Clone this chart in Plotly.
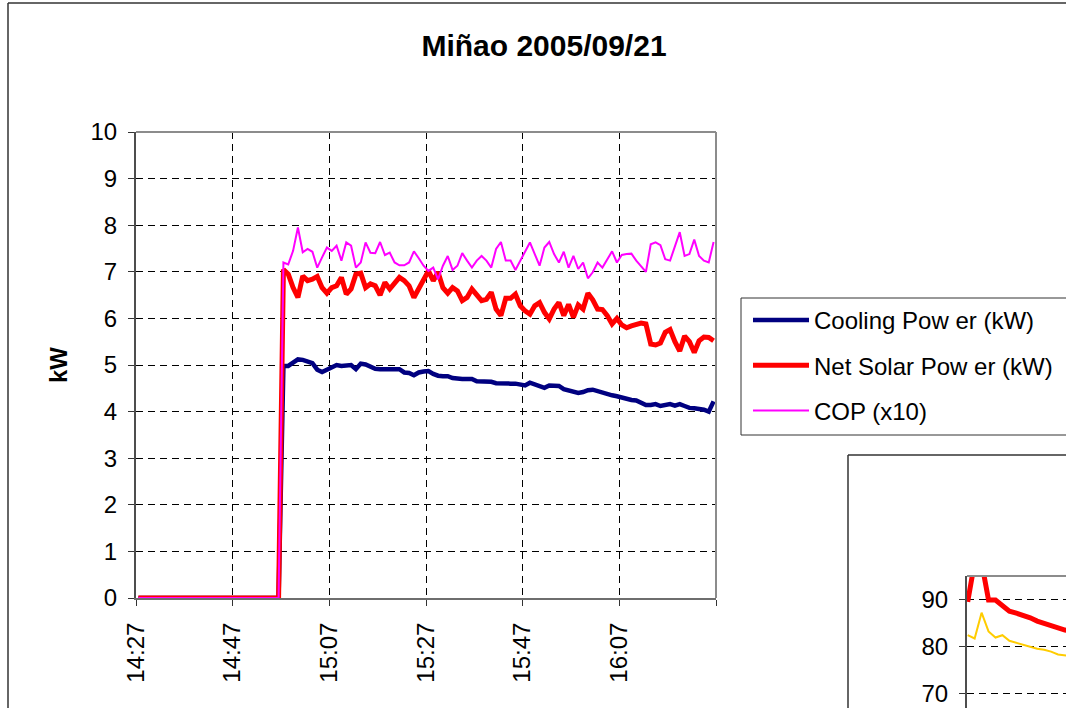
import pandas as pd
import plotly.graph_objects as go

# ---------------- data ----------------
start_time = "2005-09-21 14:27:30"
n_points = 120
times = pd.date_range(start_time, periods=n_points, freq="min")

cooling_kw = [
    0, 0, 0, 0, 0, 0, 0, 0, 0, 0, 0, 0, 0, 0, 0, 0, 0, 0, 0, 0, 0, 0, 0, 0, 0, 0, 0, 0, 0, 0,
    4.98, 4.98, 5.05, 5.12, 5.11, 5.07, 5.04, 4.90, 4.85, 4.90, 4.96, 5.00, 4.98, 4.98, 5.00,
    4.91, 5.03, 5.01, 4.97, 4.92, 4.91, 4.91, 4.91, 4.91, 4.91, 4.84, 4.83, 4.78, 4.84, 4.86,
    4.87, 4.81, 4.77, 4.76, 4.76, 4.72, 4.70, 4.70, 4.70, 4.70, 4.65, 4.65, 4.65, 4.64, 4.61,
    4.60, 4.60, 4.60, 4.60, 4.57, 4.56, 4.62, 4.58, 4.53, 4.51, 4.56, 4.56, 4.55, 4.48, 4.46,
    4.42, 4.40, 4.42, 4.46, 4.47, 4.44, 4.40, 4.36, 4.35, 4.33, 4.30, 4.27, 4.25, 4.24, 4.20,
    4.14, 4.14, 4.16, 4.12, 4.13, 4.16, 4.13, 4.16, 4.12, 4.08, 4.07, 4.06, 4.04, 4.00, 4.22,
]

net_solar_kw = [
    0, 0, 0, 0, 0, 0, 0, 0, 0, 0, 0, 0, 0, 0, 0, 0, 0, 0, 0, 0, 0, 0, 0, 0, 0, 0, 0, 0, 0, 0,
    7.05, 6.95, 6.66, 6.45, 6.91, 6.81, 6.84, 6.90, 6.66, 6.54, 6.66, 6.70, 6.88, 6.52, 6.63,
    6.95, 6.97, 6.66, 6.74, 6.70, 6.50, 6.77, 6.63, 6.77, 6.88, 6.81, 6.70, 6.45, 6.63, 6.81,
    7.02, 6.81, 6.99, 6.66, 6.54, 6.66, 6.59, 6.38, 6.45, 6.63, 6.49, 6.38, 6.41, 6.56, 6.20,
    6.06, 6.43, 6.43, 6.52, 6.27, 6.16, 6.09, 6.27, 6.34, 6.13, 5.99, 6.20, 6.34, 6.06, 6.30,
    6.02, 6.29, 6.20, 6.54, 6.40, 6.20, 6.19, 6.06, 5.88, 6.00, 5.86, 5.80, 5.84, 5.88, 5.90,
    5.88, 5.45, 5.43, 5.47, 5.70, 5.76, 5.50, 5.30, 5.62, 5.50, 5.27, 5.52, 5.60, 5.59, 5.52,
]

cop_x10 = [
    0, 0, 0, 0, 0, 0, 0, 0, 0, 0, 0, 0, 0, 0, 0, 0, 0, 0, 0, 0, 0, 0, 0, 0, 0, 0, 0, 0, 0, 0,
    7.20, 7.16, 7.45, 7.95, 7.42, 7.49, 7.43, 7.09, 7.31, 7.52, 7.45, 7.56, 7.24, 7.63, 7.56,
    7.09, 7.20, 7.63, 7.41, 7.40, 7.64, 7.36, 7.41, 7.20, 7.14, 7.14, 7.20, 7.44, 7.29, 7.13,
    7.02, 7.09, 6.84, 7.13, 7.34, 7.04, 7.13, 7.40, 7.24, 7.09, 7.24, 7.34, 7.24, 7.09, 7.49,
    7.64, 7.24, 7.24, 7.04, 7.24, 7.41, 7.63, 7.38, 7.13, 7.52, 7.64, 7.38, 7.20, 7.43, 7.09,
    7.34, 7.06, 7.20, 6.86, 6.99, 7.20, 7.09, 7.27, 7.44, 7.20, 7.36, 7.38, 7.39, 7.24, 7.11,
    7.00, 7.59, 7.63, 7.57, 7.27, 7.24, 7.56, 7.85, 7.34, 7.38, 7.69, 7.34, 7.24, 7.20, 7.64,
]

series_names = ["Cooling Pow er (kW)", "Net Solar Pow er (kW)", "COP (x10)"]

tick_times = ["2005-09-21 14:27", "2005-09-21 14:47", "2005-09-21 15:07", "2005-09-21 15:27",
              "2005-09-21 15:47", "2005-09-21 16:07", "2005-09-21 16:27"]
tick_labels = ["14:27", "14:47", "15:07", "15:27", "15:47", "16:07", ""]
y_ticks = [0, 1, 2, 3, 4, 5, 6, 7, 8, 9, 10]

# partially visible second chart (bottom right corner)
inset_index = [0, 1, 2, 3, 4, 5, 6, 7, 8, 9, 10, 11, 12, 13, 14, 15]
inset_red = [89.6, 98.0, 98.0, 90.0, 90.0, 88.8, 87.6, 87.2, 86.8, 86.2, 85.5, 85.0, 84.6, 83.9, 83.6, 83.4]
inset_yellow = [82.5, 81.8, 87.3, 83.3, 82.0, 82.5, 81.3, 80.9, 80.5, 80.0, 79.6, 79.4, 79.0, 78.4, 78.1, 78.0]
inset_y_ticks = [70, 80, 90]

# ---------------- layout helpers ----------------
W, H = 1066, 708
FONT = "Arial, 'Liberation Sans', sans-serif"


def px(x):
    return x / W


def py(y):
    return 1 - y / H


fig = go.Figure()

colors = ["#000080", "#FF0000", "#FF00FF"]
widths = [4.5, 5, 2]
for name, vals, col, wd in zip(series_names, [cooling_kw, net_solar_kw, cop_x10], colors, widths):
    fig.add_trace(go.Scatter(
        x=times, y=vals, mode="lines", name=name, legendgroup=name,
        line=dict(color=col, width=wd), cliponaxis=False,
        xaxis="x", yaxis="y",
    ))

fig.add_trace(go.Scatter(x=inset_index, y=inset_yellow, mode="lines", showlegend=False,
                         line=dict(color="#FFCC00", width=2), xaxis="x2", yaxis="y2"))
fig.add_trace(go.Scatter(x=inset_index, y=inset_red, mode="lines", showlegend=False,
                         line=dict(color="#FF0000", width=5), xaxis="x2", yaxis="y2"))

shapes = [
    # outer chart frame (extends past the window)
    dict(type="line", xref="paper", yref="paper", x0=px(8), x1=px(8), y0=py(3), y1=py(720),
         line=dict(color="#333333", width=1.5)),
    dict(type="line", xref="paper", yref="paper", x0=px(8), x1=px(1080), y0=py(3), y1=py(3),
         line=dict(color="#333333", width=1.5)),
    # main plot area top / right border
    dict(type="line", xref="paper", yref="paper", x0=px(136), x1=px(716), y0=py(132), y1=py(132),
         line=dict(color="#8c8c8c", width=2)),
    dict(type="line", xref="paper", yref="paper", x0=px(716), x1=px(716), y0=py(132), y1=py(598),
         line=dict(color="#8c8c8c", width=2)),
    # legend box
    dict(type="rect", xref="paper", yref="paper", x0=px(741), x1=px(1080), y0=py(298), y1=py(435),
         line=dict(color="#333333", width=1), fillcolor="rgba(0,0,0,0)"),
    # second chart frame
    dict(type="line", xref="paper", yref="paper", x0=px(848), x1=px(848), y0=py(455), y1=py(720),
         line=dict(color="#333333", width=1.5)),
    dict(type="line", xref="paper", yref="paper", x0=px(848), x1=px(1080), y0=py(455), y1=py(455),
         line=dict(color="#333333", width=1.5)),
    # second chart plot-area top border
    dict(type="line", xref="paper", yref="paper", x0=px(967), x1=px(1080), y0=py(576), y1=py(576),
         line=dict(color="#8c8c8c", width=2)),
]

tickfont = dict(family=FONT, size=24, color="black")

fig.update_layout(
    width=W, height=H, autosize=False,
    margin=dict(l=0, r=0, t=0, b=0),
    paper_bgcolor="white", plot_bgcolor="white",
    showlegend=True,
    title=dict(text="<b>Miñao 2005/09/21</b>", x=px(544), y=py(45), xanchor="center",
               yanchor="middle", xref="paper", yref="paper",
               font=dict(family=FONT, size=30, color="black")),
    xaxis=dict(
        domain=[px(136), px(716)], anchor="y", type="date",
        range=["2005-09-21 14:27", "2005-09-21 16:27"],
        tickmode="array", tickvals=tick_times, ticktext=tick_labels,
        tickangle=-90, tickfont=tickfont, ticklabelstandoff=7,
        ticks="outside", ticklen=6, tickcolor="#333333",
        showline=True, linecolor="#6e6e6e", linewidth=2,
        showgrid=True, gridcolor="black", gridwidth=1, griddash="7px,5px",
        zeroline=False, automargin=False,
    ),
    yaxis=dict(
        domain=[py(598), py(132)], anchor="x", range=[0, 10],
        tickmode="array", tickvals=y_ticks, tickfont=tickfont, ticklabelstandoff=6,
        ticks="outside", ticklen=6, tickcolor="#333333",
        showline=True, linecolor="#4d4d4d", linewidth=2,
        showgrid=True, gridcolor="black", gridwidth=1, griddash="7px,5px",
        zeroline=False, automargin=False,
    ),
    xaxis2=dict(
        domain=[px(967), 1.0], anchor="y2", range=[-0.1, 14.15],
        showticklabels=False, showgrid=False, zeroline=False, showline=False,
        ticks="", automargin=False,
    ),
    yaxis2=dict(
        domain=[0.0, py(576)], anchor="x2", range=[67.0, 95.1],
        tickmode="array", tickvals=inset_y_ticks, tickfont=tickfont, ticklabelstandoff=6,
        ticks="outside", ticklen=6, tickcolor="#333333",
        showline=True, linecolor="#4d4d4d", linewidth=2,
        showgrid=True, gridcolor="black", gridwidth=1, griddash="7px,5px",
        zeroline=False, automargin=False,
    ),
    legend=dict(
        x=px(748), y=py(298), xanchor="left", yanchor="top",
        bgcolor="rgba(0,0,0,0)", borderwidth=0,
        font=dict(family=FONT, size=24, color="black"),
        traceorder="grouped", tracegroupgap=11, itemwidth=56,
    ),
    shapes=shapes,
    annotations=[
        dict(text="<b>kW</b>", x=px(58), y=py(365), xref="paper", yref="paper",
             showarrow=False, textangle=-90, xanchor="center", yanchor="middle",
             font=dict(family=FONT, size=24, color="black")),
    ],
)

fig.write_html(
    "out.html",
    config={"displayModeBar": False},
    post_script="document.body.style.margin='0';document.body.style.overflow='hidden';",
)
